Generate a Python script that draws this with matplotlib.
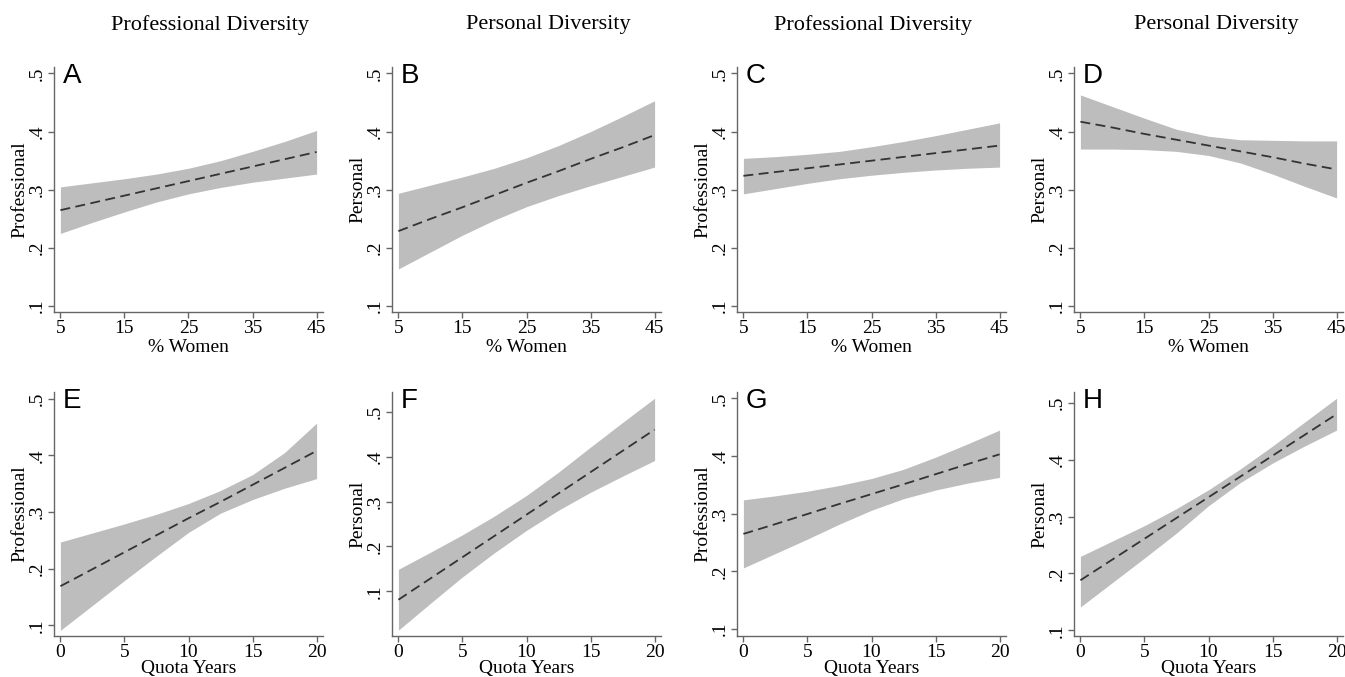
import numpy as np
import matplotlib.pyplot as plt

plt.rcParams['font.family'] = 'Liberation Serif'

# column headers and panel letters
col_titles = ['Professional Diversity', 'Personal Diversity',
              'Professional Diversity', 'Personal Diversity']
letters = ['A', 'B', 'C', 'D', 'E', 'F', 'G', 'H']
ylabels = ['Professional', 'Personal', 'Professional', 'Personal']

# row 1: % Women
x_women = [5, 10, 15, 20, 25, 30, 35, 40, 45]
mean_A = [.265, .2775, .29, .3025, .315, .3275, .34, .3525, .365]
hi_A = [.305, .312, .319, .327, .337, .350, .366, .383, .402]
lo_A = [.225, .244, .262, .279, .293, .304, .313, .320, .327]

mean_B = [.229, .250, .270, .291, .312, .332, .353, .373, .394]
hi_B = [.294, .308, .322, .337, .355, .376, .400, .426, .453]
lo_B = [.164, .193, .222, .248, .271, .290, .307, .323, .339]

mean_C = [.324, .3305, .337, .3435, .350, .3565, .363, .3695, .376]
hi_C = [.354, .357, .361, .366, .374, .383, .393, .404, .415]
lo_C = [.293, .302, .311, .319, .325, .330, .334, .337, .339]

mean_D = [.417, .407, .396, .386, .376, .366, .356, .345, .335]
hi_D = [.463, .443, .423, .404, .392, .386, .385, .384, .384]
lo_D = [.370, .370, .369, .366, .359, .346, .327, .306, .286]

# row 2: quota years
x_quota = [0, 2.5, 5, 7.5, 10, 12.5, 15, 17.5, 20]
mean_E = [.169, .199, .229, .259, .289, .318, .348, .378, .408]
hi_E = [.247, .263, .279, .296, .315, .338, .366, .405, .457]
lo_E = [.091, .135, .179, .222, .264, .298, .322, .342, .359]

mean_F = [.081, .1285, .176, .2235, .271, .3185, .366, .4135, .461]
hi_F = [.149, .187, .226, .268, .314, .366, .422, .477, .531]
lo_F = [.013, .073, .132, .186, .236, .281, .321, .357, .392]

mean_G = [.265, .282, .2995, .317, .334, .351, .3685, .386, .403]
hi_G = [.324, .331, .339, .349, .361, .377, .398, .421, .445]
lo_G = [.206, .231, .256, .282, .306, .326, .341, .353, .363]

mean_H = [.188, .2245, .261, .2975, .334, .3705, .407, .4435, .48]
hi_H = [.230, .257, .284, .314, .347, .384, .424, .466, .508]
lo_H = [.141, .184, .227, .271, .319, .360, .394, .424, .452]

panels = [
    (x_women, mean_A, lo_A, hi_A), (x_women, mean_B, lo_B, hi_B),
    (x_women, mean_C, lo_C, hi_C), (x_women, mean_D, lo_D, hi_D),
    (x_quota, mean_E, lo_E, hi_E), (x_quota, mean_F, lo_F, hi_F),
    (x_quota, mean_G, lo_G, hi_G), (x_quota, mean_H, lo_H, hi_H),
]
ylims = [(.09, .511), (.09, .511), (.09, .511), (.09, .511),
         (.081, .512), (0.0, .545), (.088, .511), (.09, .519)]

W, H = 1345, 677
fig = plt.figure(figsize=(W / 100, H / 100), dpi=100)
lefts = [54, 392, 737, 1074]
rows = [(67, 312), (392, 636)]
xlab_gap = [27.5, 24]

for i, (xs, m, lo, hi) in enumerate(panels):
    r, c = divmod(i, 4)
    top, bot = rows[r]
    ax = fig.add_axes([lefts[c] / W, (H - bot) / H, 269 / W, (bot - top) / H])
    ax.fill_between(xs, lo, hi, color='#bdbdbd', lw=0)
    ax.plot(xs, m, color='#333333', lw=1.3, linestyle=(0, (5.5, 3)))
    if r == 0:
        ax.set_xlim(4, 46)
        ax.set_xticks([5, 15, 25, 35, 45])
        ax.set_xlabel('% Women', fontsize=14)
    else:
        ax.set_xlim(-0.5, 20.5)
        ax.set_xticks([0, 5, 10, 15, 20])
        ax.set_xlabel('Quota Years', fontsize=14)
    ax.xaxis.set_label_coords(0.5, -xlab_gap[r] / (bot - top))
    ax.set_ylim(*ylims[i])
    ax.set_yticks([.1, .2, .3, .4, .5])
    ax.set_yticklabels(['.1', '.2', '.3', '.4', '.5'], rotation=90, va='center')
    ax.set_ylabel(ylabels[c], fontsize=14)
    ax.yaxis.set_label_coords(-26 / 269, 0.5)
    for s in ['top', 'right']:
        ax.spines[s].set_visible(False)
    for s in ['left', 'bottom']:
        ax.spines[s].set_color('#666666')
        ax.spines[s].set_linewidth(1.0)
    ax.tick_params(direction='out', length=4, width=1.0, color='#666666',
                   labelsize=14, pad=2)
    ax.text(0.033, 0.933, letters[i], transform=ax.transAxes,
            fontsize=20, family='Liberation Sans', va='baseline', ha='left')

centers = [210, 548, 873, 1216]
for c, t in enumerate(col_titles):
    fig.text(centers[c] / W, 1 - 25 / H, t, ha='center', va='center', fontsize=16)

fig.savefig('out.png', dpi=100)
